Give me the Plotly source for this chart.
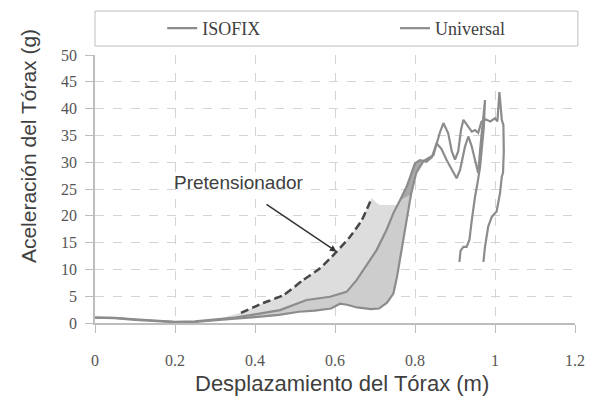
import plotly.graph_objects as go

# ---------------- data ----------------
x_iso = [0, 0.05, 0.1, 0.15, 0.2, 0.25, 0.3, 0.35, 0.4, 0.4625, 0.529, 0.5875,
         0.629, 0.654, 0.679, 0.704, 0.729, 0.746, 0.7625, 0.779, 0.8, 0.8125,
         0.829, 0.842, 0.854, 0.866, 0.879, 0.892, 0.904, 0.9125, 0.925, 0.9333,
         0.942, 0.95, 0.958, 0.963, 0.969, 0.975, 0.972, 0.966, 0.9625, 0.956,
         0.95, 0.942, 0.936, 0.929, 0.921, 0.914, 0.911]
y_iso = [1.0, 0.95, 0.7, 0.4, 0.2, 0.3, 0.6, 1.0, 1.6, 2.4, 4.3, 4.9,
         5.8, 8.0, 10.8, 13.6, 17.4, 20.5, 22.9, 25.4, 29.8, 30.4,
         30.1, 30.9, 33.5, 32.5, 30.4, 28.5, 27.0, 28.5, 32.9, 34.8,
         32.9, 30.4, 28.0, 32.5, 36.6, 41.6, 36.5, 32.0, 29.0, 26.0,
         23.5, 19.2, 15.5, 14.2, 14.2, 13.5, 11.4]

x_uni = [0, 0.05, 0.1, 0.15, 0.2, 0.25, 0.3, 0.35, 0.4, 0.46, 0.51, 0.55,
         0.59, 0.6125, 0.63, 0.655, 0.69, 0.71, 0.73, 0.746, 0.755, 0.765,
         0.777, 0.79, 0.803, 0.821, 0.846, 0.854, 0.862, 0.871, 0.883, 0.892,
         0.9, 0.908, 0.915, 0.921, 0.933, 0.942, 0.95, 0.958, 0.966, 0.975,
         0.979, 0.988, 1.0, 1.006, 1.011, 1.017, 1.021, 1.022, 1.02, 1.017,
         1.0125, 1.004, 0.992, 0.983, 0.975, 0.971]
y_uni = [1.0, 0.9, 0.6, 0.35, 0.15, 0.2, 0.45, 0.8, 1.1, 1.5, 2.1, 2.3,
         2.7, 3.6, 3.4, 2.9, 2.6, 2.7, 3.8, 5.5, 8.6, 13.0,
         18.5, 24.0, 28.0, 30.2, 31.3, 33.6, 35.5, 37.3, 35.4, 32.0,
         30.5, 32.0, 36.0, 37.9, 36.6, 35.7, 36.0, 35.5, 37.5, 38.0,
         37.9, 37.6, 38.2, 37.6, 43.1, 37.9, 36.9, 32.0, 28.0, 27.3,
         24.2, 20.8, 19.8, 18.0, 14.2, 11.4]

# Pretensioner (dashed upper envelope)
x_pre = [0.365, 0.42, 0.4708, 0.52, 0.5625, 0.604, 0.6375, 0.667, 0.6917]
y_pre = [1.9, 3.7, 5.2, 8.0, 10.2, 13.3, 16.1, 19.2, 23.3]

# flat top of the corridor after the pretensioner curve
x_top = [0.704, 0.7125, 0.756]
y_top = [22.4, 22.0, 22.0]

x_ticks = [0, 0.2, 0.4, 0.6, 0.8, 1.0, 1.2]
x_tick_labels = ["0", "0.2", "0.4", "0.6", "0.8", "1", "1.2"]
y_ticks = [0, 5, 10, 15, 20, 25, 30, 35, 40, 45, 50]
y_tick_labels = [str(v) for v in y_ticks]

# ---------------- corridor polygons built from the series ----------------
i0 = x_iso.index(0.3)
i_mid = x_iso.index(0.746)
i_top = x_iso.index(0.854)
i_dark = x_iso.index(0.7625)
u0 = x_uni.index(0.3)
u_top = x_uni.index(0.846)
u_dark = x_uni.index(0.79)

light_x = [x_iso[i0]] + x_pre + x_top + x_iso[i_mid:i0 - 1:-1]
light_y = [y_iso[i0]] + y_pre + y_top + y_iso[i_mid:i0 - 1:-1]

mid_x = x_iso[i0:i_top + 1] + x_uni[u_top:u0 - 1:-1]
mid_y = y_iso[i0:i_top + 1] + y_uni[u_top:u0 - 1:-1]

dark_x = x_iso[i_dark:i_top + 1] + x_uni[u_top:u_dark - 1:-1]
dark_y = y_iso[i_dark:i_top + 1] + y_uni[u_top:u_dark - 1:-1]

fig = go.Figure()

fig.add_trace(go.Scatter(x=light_x, y=light_y, fill="toself", fillcolor="#dddddd",
                         line=dict(width=0), mode="lines", showlegend=False,
                         hoverinfo="skip"))
fig.add_trace(go.Scatter(x=mid_x, y=mid_y, fill="toself", fillcolor="#cdcdcd",
                         line=dict(width=0), mode="lines", showlegend=False,
                         hoverinfo="skip"))
fig.add_trace(go.Scatter(x=dark_x, y=dark_y, fill="toself", fillcolor="#a9a9a9",
                         line=dict(width=0), mode="lines", showlegend=False,
                         hoverinfo="skip"))

fig.add_trace(go.Scatter(x=x_pre, y=y_pre, mode="lines", showlegend=False,
                         line=dict(color="#474747", width=2.5, dash="8px,4px",
                                   shape="spline", smoothing=0.6),
                         hoverinfo="skip"))

fig.add_trace(go.Scatter(x=x_iso, y=y_iso, mode="lines", name="ISOFIX",
                         legend="legend",
                         line=dict(color="#8c8c8c", width=2.2)))
fig.add_trace(go.Scatter(x=x_uni, y=y_uni, mode="lines", name="Universal",
                         legend="legend2",
                         line=dict(color="#8c8c8c", width=2.2)))

axis_common = dict(
    showgrid=True, gridcolor="#d4d4d4", griddash="dash", gridwidth=1,
    showline=True, linecolor="#bdbdbd", linewidth=1.5,
    ticks="outside", ticklen=8, tickcolor="#bdbdbd", tickwidth=1,
    tickfont=dict(family="Liberation Serif", size=16, color="#555555"),
    zeroline=False,
)

legend_font = dict(family="Liberation Serif", size=18, color="#404040")

# the page body adds an 8px offset, so the figure is 8px smaller than the window
fig.update_layout(
    width=589, height=392,
    margin=dict(l=87, r=22, t=47, b=77, autoexpand=False),
    paper_bgcolor="white", plot_bgcolor="white",
    xaxis=dict(range=[0, 1.2], tickmode="array", tickvals=x_ticks,
               ticktext=x_tick_labels, ticklabelstandoff=14, **axis_common),
    yaxis=dict(range=[0, 50], tickmode="array", tickvals=y_ticks,
               ticktext=y_tick_labels, ticklabelstandoff=5, **axis_common),
    legend=dict(x=0.14, xanchor="left", y=1.099, yanchor="middle",
                bgcolor="rgba(0,0,0,0)", font=legend_font),
    legend2=dict(x=0.625, xanchor="left", y=1.099, yanchor="middle",
                 bgcolor="rgba(0,0,0,0)", font=legend_font),
    shapes=[dict(type="rect", xref="paper", yref="paper", x0=0, x1=1.006,
                 y0=1.0336, y1=1.164, line=dict(color="#bdbdbd", width=1),
                 fillcolor="rgba(0,0,0,0)", layer="below")],
    annotations=[
        dict(text="Desplazamiento del Tórax (m)", xref="paper", yref="paper",
             x=0.5146, y=-0.224, showarrow=False, xanchor="center", yanchor="middle",
             font=dict(family="Liberation Sans", size=22, color="#404040")),
        dict(text="Aceleración del Tórax (g)", xref="paper", yref="paper",
             x=-0.1396, y=0.66, showarrow=False, textangle=-90,
             xanchor="center", yanchor="middle",
             font=dict(family="Liberation Sans", size=21, color="#404040")),
        dict(text="Pretensionador", xref="x", yref="y", x=0.36, y=26.2,
             showarrow=False, xanchor="center", yanchor="middle",
             font=dict(family="Liberation Sans", size=19, color="#404040")),
        dict(text="", xref="x", yref="y", x=0.604, y=13.3, axref="x", ayref="y",
             ax=0.425, ay=22.3, showarrow=True, arrowhead=2, arrowsize=0.9,
             arrowwidth=1.5, arrowcolor="#333333"),
    ],
)

fig.write_html("out.html")
